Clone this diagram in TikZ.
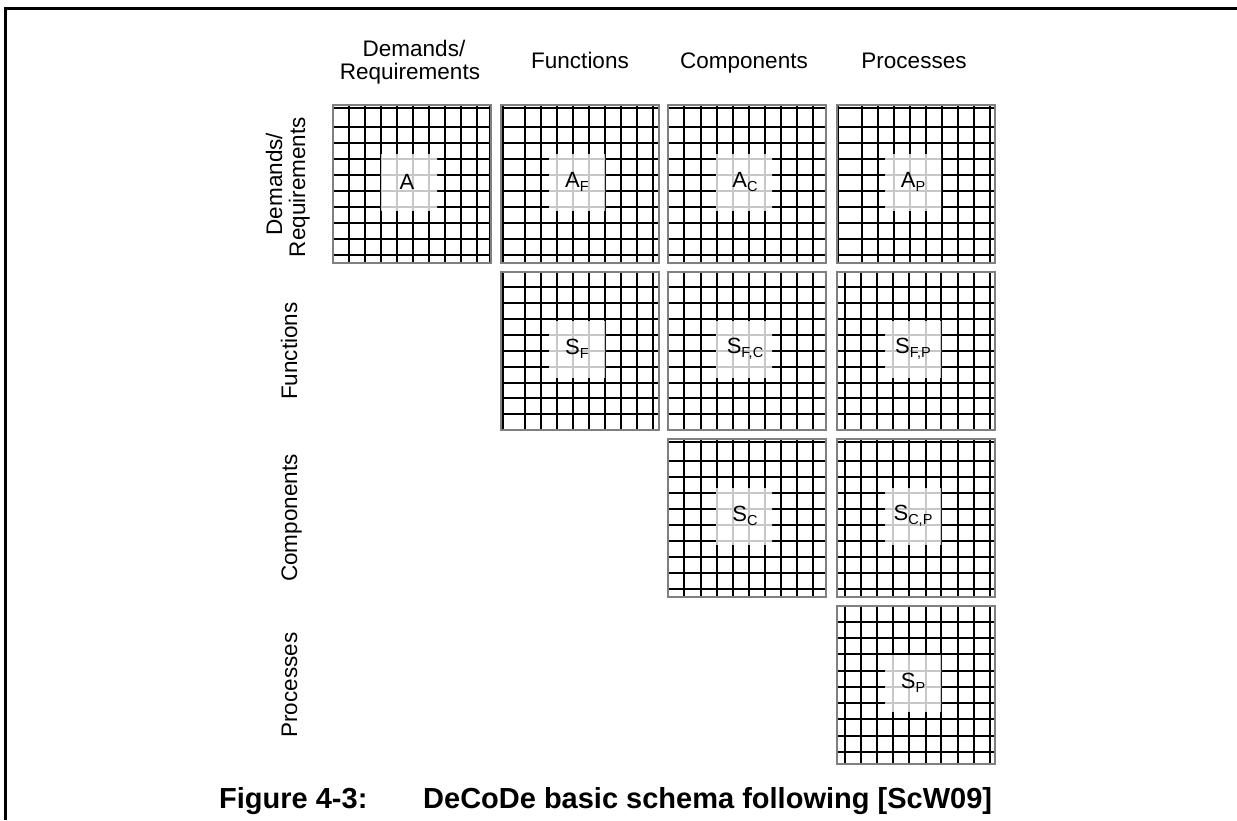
\documentclass[tikz,border=0pt]{standalone}
\usepackage{fontspec}
\setmainfont{Liberation Sans}
\begin{document}
\begin{tikzpicture}[x=1pt,y=-1pt,
  gridline/.style={black,line width=2.4pt},
  softline/.style={black!22,line width=1.6pt},
  boxedge/.style={black!50,line width=1.2pt},
  frameline/.style={black,line width=2.6pt},
  head/.style={font=\fontsize{22.5}{24}\selectfont,inner sep=0pt,anchor=base},
  cell/.style={font=\fontsize{22}{22}\selectfont,inner sep=0pt},
  figcaption/.style={font=\fontsize{29}{30}\selectfont\bfseries,inner sep=0pt,anchor=base west}]
\useasboundingbox (0,0) rectangle (1237,820);

% page frame (left and top rules)
\draw[frameline] (5.5,820) -- (5.5,8.5) -- (1237,8.5);

% one matrix block: #1,#2 top-left corner; #3 vertical rule offsets; #4 horizontal rule offsets
\newcommand{\matblock}[4]{%
  \begin{scope}[shift={(#1,#2)}]
    \foreach \gx in #3 {\draw[gridline] (\gx,0) -- (\gx,158);}
    \foreach \gy in #4 {\draw[gridline] (0,\gy) -- (158,\gy);}
    \fill[white] (48,49) rectangle (104,105);
    \begin{scope}
      \clip (48,49) rectangle (104,105);
      \foreach \gx in #3 {\draw[softline] (\gx,0) -- (\gx,158);}
      \foreach \gy in #4 {\draw[softline] (0,\gy) -- (158,\gy);}
    \end{scope}
    \draw[boxedge] (0,0) rectangle (158,158);
  \end{scope}}
\newcommand{\sub}[1]{\raisebox{-0.35ex}{\fontsize{14.5}{14}\selectfont #1}}

% column rule patterns
\def\colA{16,32,48,64,80,96,112,128,144,157}
\def\colB{2,24,40,56,72,88,104,120,136,152}
\def\colC{16,33,49,65,81,97,113,129,145}
\def\colD{1,25,41,57,73,89,105,121,137,153}
\def\colDlow{8,24,40,56,72,89,104,121,137,153}
% row rule patterns
\def\rowA{3,22,38,54,70,86,102,118,134,150}
\def\rowB{15,31,47,63,79,95,111,126,142}
\def\rowC{3,22,38,54,70,86,102,118,134,150}
\def\rowD{16,32,48,65,81,97,113,130,146}

% row 1
\matblock{333}{105}{\colA}{\rowA}
\matblock{501}{105}{\colB}{\rowA}
\matblock{668}{105}{\colC}{\rowA}
\matblock{837}{105}{\colD}{\rowA}
% row 2
\matblock{501}{272}{\colB}{\rowB}
\matblock{668}{272}{\colC}{\rowB}
\matblock{837}{272}{\colDlow}{\rowB}
% row 3
\matblock{668}{439}{\colC}{\rowC}
\matblock{837}{439}{\colDlow}{\rowC}
% row 4
\matblock{837}{606}{\colDlow}{\rowD}

% block labels
\node[cell] (a)   at (407,182) {A};
\node[cell] (af)  at (577,182) {A\sub{F}};
\node[cell] (ac)  at (745,182) {A\sub{C}};
\node[cell] (ap)  at (913,182) {A\sub{P}};
\node[cell] (sf)  at (577,349) {S\sub{F}};
\node[cell] (sfc) at (745,349) {S\sub{F,C}};
\node[cell] (sfp) at (913,349) {S\sub{F,P}};
\node[cell] (sc)  at (745,516) {S\sub{C}};
\node[cell] (scp) at (913,516) {S\sub{C,P}};
\node[cell] (sp)  at (913,683) {S\sub{P}};

% column headings
\node[head] (h1a) at (414,56) {Demands/};
\node[head] (h1b) at (410,79) {Requirements};
\node[head] (h2) at (580,68) {Functions};
\node[head] (h3) at (744,68) {Components};
\node[head] (h4) at (914,68) {Processes};

% row headings
\node[head,rotate=90] (r1a) at (282,184) {Demands/};
\node[head,rotate=90] (r1b) at (305,187) {Requirements};
\node[head,rotate=90] (r2) at (297,351) {Functions};
\node[head,rotate=90] (r3) at (297,518) {Components};
\node[head,rotate=90] (r4) at (297,685) {Processes};

% caption
\node[figcaption] (capnum) at (219,808) {Figure 4-3:};
\node[figcaption] (captxt) at (423,808) {DeCoDe basic schema following [ScW09]};
\end{tikzpicture}
\end{document}
